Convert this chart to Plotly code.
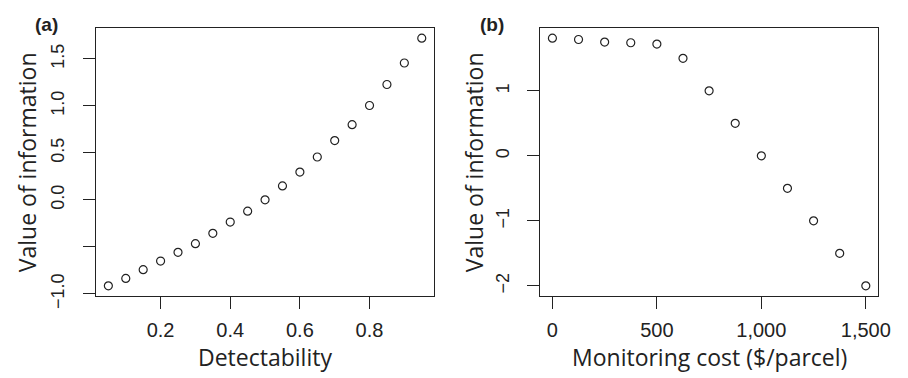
import plotly.graph_objects as go

# Panel (a)
detectability = [0.05, 0.10, 0.15, 0.20, 0.25, 0.30, 0.35, 0.40, 0.45, 0.50,
                 0.55, 0.60, 0.65, 0.70, 0.75, 0.80, 0.85, 0.90, 0.95]
voi_a = [-0.915, -0.836, -0.743, -0.651, -0.558, -0.466, -0.356, -0.236, -0.12, 0.0,
         0.148, 0.295, 0.456, 0.631, 0.80, 1.004, 1.227, 1.456, 1.72]
a_xticks = [0.2, 0.4, 0.6, 0.8]
a_xticktext = ["0.2", "0.4", "0.6", "0.8"]
a_yticks = [-1.0, -0.5, 0.0, 0.5, 1.0, 1.5]
a_yticktext = ["\u22121.0", "", "0.0", "0.5", "1.0", "1.5"]

# Panel (b)
cost = [0, 125, 250, 375, 500, 625, 750, 875, 1000, 1125, 1250, 1375, 1500]
voi_b = [1.81, 1.79, 1.75, 1.74, 1.72, 1.50, 1.0, 0.5, 0.0, -0.5, -1.0, -1.5, -2.0]
b_xticks = [0, 500, 1000, 1500]
b_xticktext = ["0", "500", "1,000", "1,500"]
b_yticks = [-2, -1, 0, 1]
b_yticktext = ["\u22122", "\u22121", "0", "1"]

W, H = 908, 378
ink = "#222222"
xtickfont = dict(family="Liberation Sans, Arial", size=20, color=ink)
ytickfont = dict(family="Liberation Sans, Arial", size=18, color=ink)
titlefont = dict(family="Open Sans", size=23, color=ink)

fig = go.Figure()
marker = dict(symbol="circle-open", size=8, color=ink, line=dict(width=1.2, color=ink))
fig.add_trace(go.Scatter(x=detectability, y=voi_a, mode="markers", marker=marker,
                         xaxis="x", yaxis="y", showlegend=False))
fig.add_trace(go.Scatter(x=cost, y=voi_b, mode="markers", marker=marker,
                         xaxis="x2", yaxis="y2", showlegend=False))

def rng(vals):
    lo, hi = min(vals), max(vals)
    d = (hi - lo) * 0.04
    return [lo - d, hi + d]

ydom = [1 - 298 / H, 1 - 21 / H]
common = dict(showgrid=False, zeroline=False, showline=True, linecolor=ink, linewidth=1.3,
              mirror=True, ticks="outside", ticklen=12, tickwidth=1.3, tickcolor=ink)

fig.update_layout(
    width=W, height=H, margin=dict(l=0, r=0, t=0, b=0),
    paper_bgcolor="white", plot_bgcolor="white",
    xaxis=dict(domain=[89 / W, 432 / W], range=rng(detectability), tickmode="array",
               tickvals=a_xticks, ticktext=a_xticktext, anchor="y", ticklabelstandoff=4,
               tickfont=xtickfont, **common),
    yaxis=dict(domain=ydom, range=rng(voi_a), tickmode="array", tickvals=a_yticks,
               ticktext=a_yticktext, tickangle=-90, anchor="x", ticklabelstandoff=11,
               tickfont=ytickfont, **common),
    xaxis2=dict(domain=[539 / W, 882 / W], range=rng(cost), tickmode="array",
                tickvals=b_xticks, ticktext=b_xticktext, anchor="y2", ticklabelstandoff=4,
                tickfont=xtickfont, **common),
    yaxis2=dict(domain=ydom, range=rng(voi_b), tickmode="array", tickvals=b_yticks,
                ticktext=b_yticktext, tickangle=-90, anchor="x2", ticklabelstandoff=11,
                tickfont=ytickfont, **common),
)

def ann(text, x, y, font, angle=0):
    fig.add_annotation(text=text, x=x / W, y=1 - y / H, xref="paper", yref="paper",
                       showarrow=False, font=font, textangle=angle,
                       xanchor="center", yanchor="middle")

ann("Detectability", 260, 361, titlefont)
ann("Monitoring cost ($/parcel)", 711, 361, titlefont)
ann("Value of information", 20, 160, titlefont, -90)
ann("Value of information", 473, 160, titlefont, -90)
boldfont = dict(family="Liberation Sans, Arial", size=19, color=ink)
ann("<b>(a)</b>", 39, 17, boldfont)
ann("<b>(b)</b>", 490, 17, boldfont)

fig.write_html("out.html")
